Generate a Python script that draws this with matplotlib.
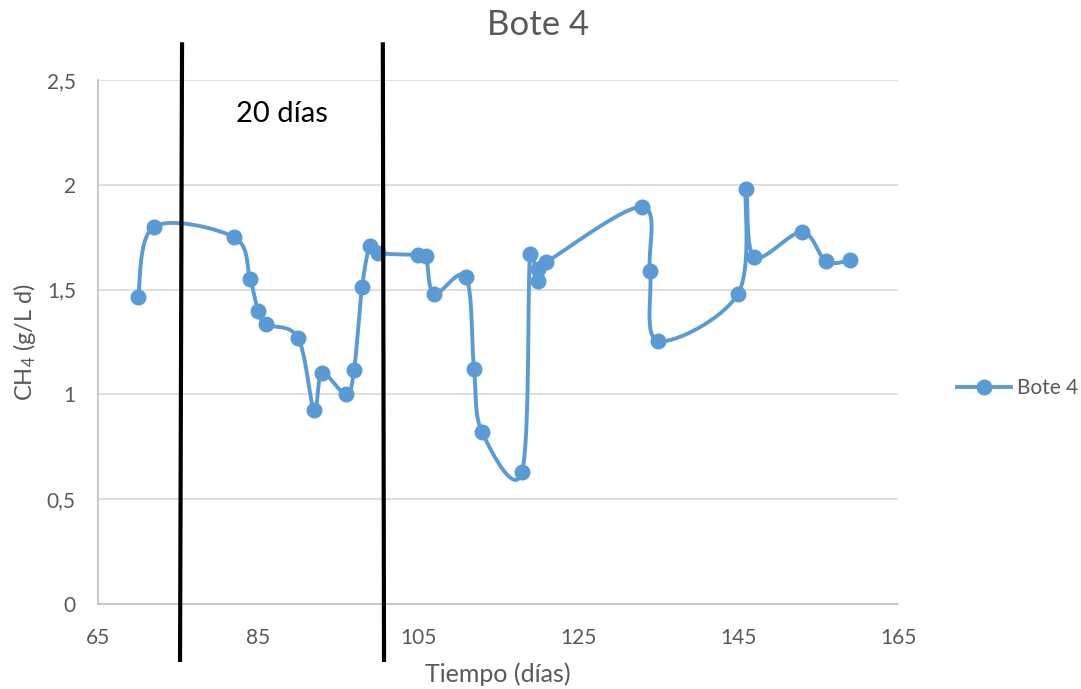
import numpy as np
import matplotlib
matplotlib.use("Agg")
import matplotlib.pyplot as plt

plt.rcParams["font.family"] = ["Lato", "DejaVu Sans"]
plt.rcParams["mathtext.fontset"] = "custom"
plt.rcParams["mathtext.rm"] = "Lato"
plt.rcParams["mathtext.it"] = "Lato:italic"

# --- data
dias = [70, 72, 82, 84, 85, 86, 90, 92, 93, 96, 97, 98, 99, 100,
        105, 106, 107, 111, 112, 113, 118, 119, 120, 120, 121,
        133, 134, 135, 145, 146, 147, 153, 156, 159]
ch4 = [1.465, 1.80, 1.75, 1.55, 1.40, 1.335, 1.27, 0.925, 1.10, 1.00, 1.115, 1.51, 1.71, 1.675,
       1.665, 1.66, 1.48, 1.56, 1.12, 0.82, 0.63, 1.67, 1.54, 1.60, 1.63,
       1.895, 1.59, 1.255, 1.48, 1.98, 1.655, 1.775, 1.635, 1.64]
serie = "Bote 4"

marcas_dias = [(75.5, 75.25), (100.6, 100.75)]   # black period lines (top x, bottom x)
texto_periodo = "20 días"

x_ticks = [65, 85, 105, 125, 145, 165]
y_ticks = [0, 0.5, 1, 1.5, 2, 2.5]
y_labels = ["0", "0,5", "1", "1,5", "2", "2,5"]

AZUL = "#5B9BD5"
GRIS = "#595959"


def suavizar(xs, ys, sx, sy, n=40):
    """Excel-like smoothed line: cubic Bezier, Catmull-Rom tangents, handles capped."""
    P = np.column_stack([np.asarray(xs, float) * sx, np.asarray(ys, float) * sy])
    out = [P[0]]
    for i in range(len(P) - 1):
        p0 = P[i - 1] if i > 0 else P[i]
        p1, p2 = P[i], P[i + 1]
        p3 = P[i + 2] if i + 2 < len(P) else P[i + 1]
        seg = np.hypot(*(p2 - p1))
        h1 = (p2 - p0) / 6.0
        h2 = (p3 - p1) / 6.0
        for h in (h1, h2):
            L = np.hypot(*h)
            if L > 0.5 * seg and L > 0:
                h *= 0.5 * seg / L
        c1 = p1 + h1
        c2 = p2 - h2
        t = np.linspace(0, 1, n)[1:, None]
        b = ((1 - t) ** 3) * p1 + 3 * ((1 - t) ** 2) * t * c1 + 3 * (1 - t) * t ** 2 * c2 + t ** 3 * p2
        out.extend(b)
    out = np.array(out)
    return out[:, 0] / sx, out[:, 1] / sy


fig = plt.figure(figsize=(10.81, 6.89), dpi=100)
ax = fig.add_axes([0.0907, 0.1234, 0.74, 0.7605])
ax.set_xlim(65, 165)
ax.set_ylim(0, 2.5)

# screen scale: 800 px per 100 days, 524 px per 2.5 units
xs_s, ys_s = suavizar(dias, ch4, 8.0, 209.6)
ax.plot(xs_s, ys_s, color=AZUL, lw=2.8, solid_capstyle="round", solid_joinstyle="round", zorder=3)
ax.plot(dias, ch4, "o", color=AZUL, ms=10.5, zorder=4)

# legend proxy
ax.plot([], [], "-o", color=AZUL, lw=2.8, ms=10.5, label=serie)

for xt, xb in marcas_dias:
    ax.plot([xt, xb], [2.67, -0.267], color="black", lw=3, clip_on=False, zorder=5)

ax.text(88, 2.34, texto_periodo, fontsize=21, ha="center", va="center", color="black")

ax.set_xticks(x_ticks)
ax.set_yticks(y_ticks)
ax.set_yticklabels(y_labels)
ax.tick_params(axis="both", length=0, labelsize=15, labelcolor=GRIS)
ax.tick_params(axis="x", pad=17)
ax.tick_params(axis="y", pad=16)
ax.grid(axis="y", color="#d9d9d9", lw=1.2)
ax.set_axisbelow(True)
for s in ["top", "right"]:
    ax.spines[s].set_visible(False)
for s in ["left", "bottom"]:
    ax.spines[s].set_color("#bfbfbf")
    ax.spines[s].set_linewidth(1.2)

ax.set_xlabel("Tiempo (días)", fontsize=18, color=GRIS, labelpad=11)
ax.set_ylabel("CH$_4$ (g/L d)", fontsize=17, color=GRIS, labelpad=6)
fig.text(0.498, 0.964, "Bote 4", fontsize=25, color=GRIS, ha="center", va="center")

leg = ax.legend(loc="center left", bbox_to_anchor=(957 / 1081, 1 - 388 / 689),
                bbox_transform=fig.transFigure, frameon=False, fontsize=15,
                handlelength=2.6, handletextpad=0.3, borderpad=0, borderaxespad=0)
for t in leg.get_texts():
    t.set_color(GRIS)

fig.savefig("out.png", dpi=100)
